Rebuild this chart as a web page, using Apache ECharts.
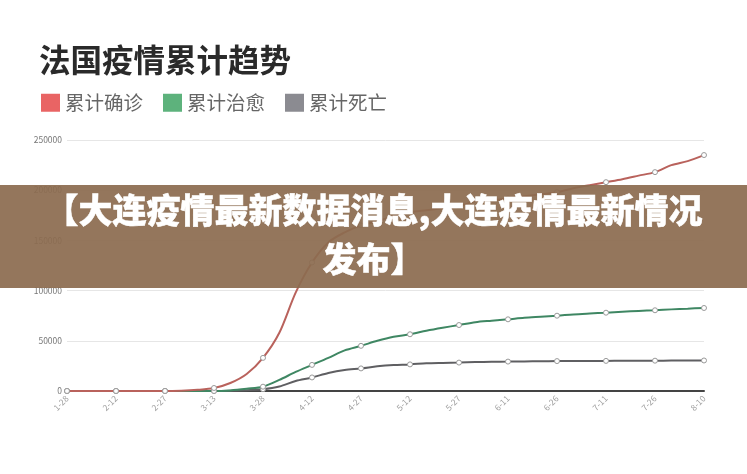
<!DOCTYPE html>
<html>
<head>
<meta charset="utf-8">
<script src="https://cdn.jsdelivr.net/npm/echarts@6/dist/echarts.min.js"></script>
<style>
html,body{margin:0;padding:0;background:#fff;}
#chart{width:747px;height:474px;}
</style>
</head>
<body>
<div id="chart"></div>
<script>
var dates = ['1-28','2-2','2-7','2-12','2-17','2-22','2-27','3-3','3-8','3-13','3-18','3-23','3-28','4-2','4-7','4-12','4-17','4-22','4-27','5-2','5-7','5-12','5-17','5-22','5-27','6-1','6-6','6-11','6-16','6-21','6-26','7-1','7-6','7-11','7-16','7-21','7-26','7-31','8-5','8-10'];
var confirmed = [4,6,11,11,12,12,38,212,1126,3000,8000,17000,33000,58000,98000,128000,148000,158000,165000,169000,174000,178000,180000,182000,184000,189000,190000,192000,194000,196000,198000,202000,205000,208000,211000,214500,218000,225000,229000,235000];
var recovered = [0,0,0,0,2,4,11,12,12,12,600,2200,4300,11000,19000,26000,33000,40500,45000,50000,54000,56500,60000,63000,65700,68500,70000,71400,73000,74000,75000,76300,77200,78000,79000,79800,80400,81300,82000,82700];
var deaths = [0,0,0,0,1,1,2,4,19,79,264,860,1800,4500,10000,13500,18000,21000,22500,24600,25900,26500,27600,28000,28300,28800,29100,29300,29500,29600,29800,29900,30000,30000,30100,30200,30200,30300,30300,30400];
var seriesNames = ['累计确诊','累计治愈','累计死亡'];
var legendColors = ['#e96464','#5db27c','#8b8b91'];
var lineColors = ['#b9625c','#3f8763','#5f5f62'];
var titleText = '法国疫情累计趋势';
var bannerLines = ['【大连疫情最新数据消息,大连疫情最新情况', '发布】'];

var chart = echarts.init(document.getElementById('chart'), null, {renderer:'canvas'});
var font = '"Noto Sans CJK SC","Noto Sans",sans-serif';
function mk(i, data){
  return {
    name: seriesNames[i], type:'line', data:data, smooth:0.3,
    symbol:function(v,p){return p.dataIndex%3===0?'circle':'none';},
    symbolSize:5, showSymbol:true, showAllSymbol:true,
    lineStyle:{color:lineColors[i], width:2},
    itemStyle:{color:'#fff', borderColor:'#9a9a9a', borderWidth:1},
    z: 3 - i
  };
}
chart.setOption({
  animation:false,
  backgroundColor:'#fff',
  title:{text:titleText, left:34, top:39, textStyle:{fontFamily:font, fontSize:31.5, fontWeight:'bold', color:'#2a2a2a'}},
  legend:{
    left:36, top:88, itemWidth:19, itemHeight:18, itemGap:20, icon:'rect',
    textStyle:{fontFamily:font, fontSize:19.5, color:'#666'},
    data: seriesNames.map(function(n,i){return {name:n, icon:'rect', itemStyle:{color:legendColors[i], borderWidth:0}};})
  },
  grid:{left:67, right:43, top:140, bottom:83},
  xAxis:{
    type:'category', boundaryGap:false, data:dates,
    axisLine:{lineStyle:{color:'#444', width:2}},
    axisTick:{show:false},
    axisLabel:{interval:2, rotate:45, fontSize:8.5, color:'#a0a0a0', margin:6, fontFamily:font}
  },
  yAxis:{
    type:'value', min:0, max:250000, interval:50000,
    axisLine:{show:false}, axisTick:{show:false},
    axisLabel:{fontSize:8.5, color:'#777', margin:5, fontFamily:font, formatter:function(v){return String(v);}},
    splitLine:{lineStyle:{color:'#e6e6e6', width:1}}
  },
  series:[mk(0,confirmed), mk(1,recovered), mk(2,deaths)],
  graphic:[
    {type:'rect', z:100, left:0, top:185, shape:{width:747, height:103}, style:{fill:'rgba(140,108,80,0.93)'}},
    {type:'text', z:101, left:'center', top:193, style:{text:bannerLines[0], fontFamily:font, fontSize:34, fontWeight:900, fill:'#fff', stroke:'#fff', lineWidth:0.5}},
    {type:'text', z:101, left:'center', top:242, style:{text:bannerLines[1], fontFamily:font, fontSize:34, fontWeight:900, fill:'#fff', stroke:'#fff', lineWidth:0.5}}
  ]
});
</script>
</body>
</html>
